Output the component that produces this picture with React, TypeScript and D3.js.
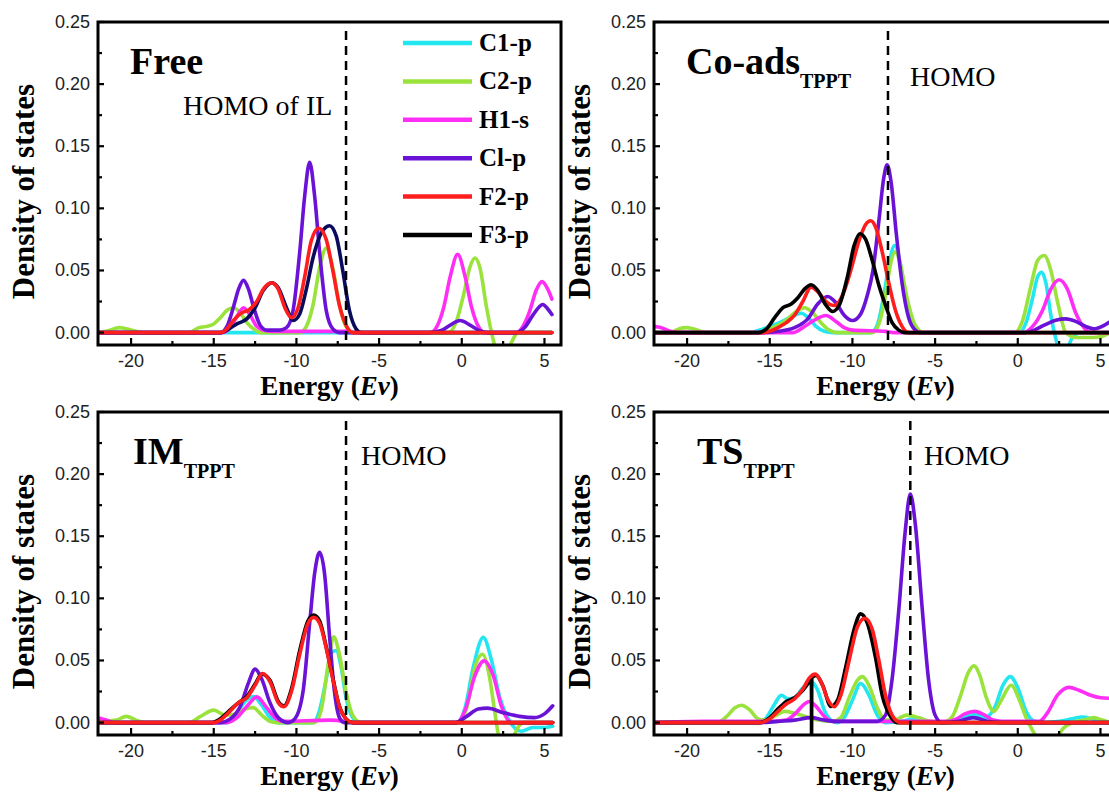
import React from 'react';
import * as d3 from 'd3';

type Pt = [number, number];

// ---------- shared labels ----------
const SERIES_NAMES = ['C1-p', 'C2-p', 'H1-s', 'Cl-p', 'F2-p', 'F3-p'];
const SERIES_COLORS = ['#22E6F0', '#9AE23C', '#FF2EF5', '#6A12D6', '#FF1E1E', '#000000'];
const X_TICKS = [-20, -15, -10, -5, 0, 5];
const X_MINOR = [-17.5, -12.5, -7.5, -2.5, 2.5];
const Y_TICKS = [0, 0.05, 0.1, 0.15, 0.2, 0.25];
const Y_MINOR = [0.025, 0.075, 0.125, 0.175, 0.225];
const X_DOMAIN: Pt = [-22, 6];
const Y_DOMAIN: Pt = [-0.01, 0.25];

// ---------- Free ----------
const FREE_C1: Pt[] = [[-22, 0], [5.45, 0]];
const FREE_C2: Pt[] = [[-22, 0], [-21.5, 0.001], [-20.7, 0.004], [-20, 0.002], [-19.3, 0], [-16.5, 0], [-15.9, 0.004], [-15.4, 0.005], [-15, 0.007], [-14.6, 0.012], [-14.2, 0.018], [-13.8, 0.02], [-13.4, 0.016], [-13, 0.008], [-12.5, 0.002], [-12.2, 0], [-9.8, 0], [-9.4, 0.005], [-9, 0.022], [-8.6, 0.052], [-8.2, 0.068], [-7.8, 0.052], [-7.4, 0.022], [-7, 0.005], [-6.6, 0], [-0.8, 0], [-0.3, 0.01], [0.1, 0.03], [0.5, 0.053], [0.8, 0.06], [1.1, 0.052], [1.5, 0.02], [1.8, 0], [2.2, -0.018], [2.6, -0.02], [3, -0.008], [3.4, 0], [5.45, 0]];
const FREE_H1: Pt[] = [[-22, 0], [-14.5, 0], [-14, 0.004], [-13.6, 0.013], [-13.2, 0.02], [-12.8, 0.014], [-12.4, 0.005], [-12, 0.002], [-11.5, 0.001], [-7, 0.001], [-6.5, 0], [-1.9, 0], [-1.5, 0.005], [-1.1, 0.02], [-0.7, 0.045], [-0.25, 0.063], [0.2, 0.045], [0.6, 0.02], [1, 0.005], [1.4, 0], [3.3, 0], [3.7, 0.005], [4.1, 0.017], [4.5, 0.034], [4.85, 0.041], [5.2, 0.035], [5.45, 0.027]];
const FREE_CL: Pt[] = [[-22, 0], [-14.6, 0], [-14.2, 0.005], [-13.8, 0.021], [-13.5, 0.035], [-13.2, 0.042], [-12.9, 0.035], [-12.6, 0.021], [-12.2, 0.006], [-11.8, 0.002], [-11, 0.002], [-10.6, 0.004], [-10.2, 0.018], [-9.8, 0.065], [-9.5, 0.11], [-9.2, 0.137], [-8.9, 0.11], [-8.6, 0.065], [-8.2, 0.018], [-7.8, 0.003], [-7.4, 0], [-2, 0], [-1.2, 0.002], [-0.7, 0.006], [-0.1, 0.0097], [0.5, 0.006], [1, 0.002], [1.6, 0], [3.3, 0], [3.8, 0.004], [4.3, 0.014], [4.9, 0.0226], [5.2, 0.019], [5.45, 0.0145]];
const FREE_F2: Pt[] = [[-22, 0], [-14.6, 0], [-14.2, 0.003], [-13.8, 0.01], [-13.3, 0.016], [-12.9, 0.018], [-12.4, 0.025], [-12, 0.035], [-11.5, 0.04], [-11.1, 0.035], [-10.7, 0.02], [-10.3, 0.012], [-9.9, 0.02], [-9.5, 0.045], [-9.1, 0.074], [-8.65, 0.084], [-8.2, 0.075], [-7.8, 0.05], [-7.4, 0.022], [-7, 0.006], [-6.6, 0], [5.45, 0]];
const FREE_F3: Pt[] = [[-22, 0], [-14.6, 0], [-14.2, 0.002], [-13.6, 0.007], [-13, 0.011], [-12.5, 0.02], [-12, 0.034], [-11.5, 0.04], [-11.1, 0.036], [-10.6, 0.02], [-10.2, 0.0097], [-9.8, 0.015], [-9.4, 0.035], [-9, 0.06], [-8.5, 0.08], [-8, 0.086], [-7.6, 0.078], [-7.2, 0.05], [-6.8, 0.018], [-6.4, 0.003], [-6.1, 0], [5.45, 0]];

// ---------- Co-ads TPPT ----------
const COADS_C1: Pt[] = [[-22, 0], [-16.2, 0], [-15.6, 0.002], [-15, 0.005], [-14.4, 0.008], [-13.8, 0.012], [-13.1, 0.0156], [-12.6, 0.011], [-12.2, 0.005], [-11.7, 0.001], [-11.2, 0], [-8.9, 0], [-8.5, 0.006], [-8.1, 0.03], [-7.75, 0.058], [-7.45, 0.07], [-7.1, 0.055], [-6.8, 0.028], [-6.4, 0.007], [-5.9, 0], [0.1, 0], [0.5, 0.008], [0.9, 0.028], [1.2, 0.045], [1.45, 0.0486], [1.7, 0.04], [2, 0.014], [2.3, -0.005], [2.8, -0.018], [3.3, -0.004], [3.8, 0], [5.6, 0]];
const COADS_C2: Pt[] = [[-22, 0], [-21, 0], [-20.5, 0.003], [-20, 0.004], [-19.4, 0.002], [-18.8, 0], [-15.6, 0], [-14.8, 0.004], [-14, 0.01], [-13.4, 0.017], [-12.9, 0.02], [-12.4, 0.016], [-11.9, 0.008], [-11.4, 0.002], [-10.9, 0], [-8.8, 0], [-8.4, 0.007], [-8, 0.03], [-7.7, 0.055], [-7.4, 0.065], [-7.1, 0.055], [-6.7, 0.028], [-6.2, 0.006], [-5.7, 0], [-0.2, 0], [0.3, 0.01], [0.8, 0.038], [1.2, 0.058], [1.6, 0.062], [2, 0.05], [2.4, 0.025], [2.9, 0], [3.5, -0.004], [4.5, -0.004], [5.1, -0.003], [5.6, 0]];
const COADS_H1: Pt[] = [[-22, 0.005], [-21.6, 0.004], [-21, 0.001], [-20.5, 0], [-13.6, 0], [-13, 0.004], [-12.3, 0.01], [-11.6, 0.0137], [-11, 0.009], [-10.5, 0.004], [-10, 0.002], [-8, 0.001], [-7.5, 0], [0.3, 0], [0.9, 0.005], [1.5, 0.018], [2, 0.035], [2.5, 0.0425], [3, 0.035], [3.5, 0.016], [4, 0.004], [4.4, 0], [5.6, 0]];
const COADS_CL: Pt[] = [[-22, 0], [-15.5, 0], [-14.5, 0.001], [-13.5, 0.004], [-12.7, 0.011], [-12.1, 0.023], [-11.5, 0.029], [-11, 0.024], [-10.5, 0.014], [-10, 0.0097], [-9.5, 0.015], [-9.1, 0.03], [-8.76, 0.05], [-8.4, 0.09], [-8.1, 0.125], [-7.9, 0.135], [-7.65, 0.12], [-7.35, 0.08], [-7, 0.04], [-6.6, 0.012], [-6.2, 0.002], [-5.9, 0], [0.4, 0], [1, 0.002], [1.6, 0.006], [2.3, 0.01], [2.9, 0.011], [3.5, 0.009], [4.1, 0.005], [4.6, 0.003], [5.1, 0.005], [5.6, 0.009]];
const COADS_F2: Pt[] = [[-22, 0], [-15.4, 0], [-15, 0.001], [-14.5, 0.004], [-14, 0.008], [-13.5, 0.014], [-13, 0.025], [-12.5, 0.0366], [-12.1, 0.033], [-11.6, 0.025], [-11.1, 0.0218], [-10.6, 0.03], [-10.1, 0.05], [-9.6, 0.074], [-9.2, 0.087], [-8.9, 0.09], [-8.6, 0.085], [-8.2, 0.065], [-7.8, 0.04], [-7.4, 0.018], [-7, 0.005], [-6.6, 0], [5.6, 0]];
const COADS_F3: Pt[] = [[-22, 0], [-15.7, 0], [-15.2, 0.003], [-14.7, 0.012], [-14.2, 0.02], [-13.7, 0.023], [-13.3, 0.028], [-12.9, 0.035], [-12.5, 0.0385], [-12.1, 0.034], [-11.6, 0.022], [-11.2, 0.017], [-10.8, 0.022], [-10.3, 0.045], [-9.9, 0.07], [-9.55, 0.0796], [-9.2, 0.075], [-8.8, 0.058], [-8.4, 0.038], [-8, 0.022], [-7.6, 0.008], [-7.2, 0.002], [-6.8, 0], [5.6, 0]];

// ---------- IM TPPT ----------
const IM_C1: Pt[] = [[-22, 0], [-14.2, 0], [-13.6, 0.008], [-13.1, 0.017], [-12.6, 0.021], [-12.1, 0.014], [-11.6, 0.004], [-11.1, 0], [-9, 0], [-8.6, 0.01], [-8.2, 0.035], [-7.9, 0.056], [-7.6, 0.058], [-7.3, 0.045], [-7, 0.02], [-6.6, 0.004], [-6.2, 0], [-0.3, 0], [0.2, 0.012], [0.7, 0.045], [1.3, 0.0686], [1.8, 0.05], [2.3, 0.02], [2.9, 0.001], [3.6, -0.007], [4.3, -0.004], [4.9, -0.004], [5.5, -0.003]];
const IM_C2: Pt[] = [[-22, 0.001], [-20.9, 0.002], [-20.3, 0.005], [-19.7, 0.002], [-19.2, 0], [-16.5, 0], [-15.8, 0.005], [-15, 0.01], [-14.3, 0.006], [-13.7, 0.007], [-13.1, 0.011], [-12.6, 0.012], [-12.1, 0.006], [-11.6, 0.001], [-11.2, 0], [-8.9, 0], [-8.5, 0.01], [-8.1, 0.045], [-7.75, 0.069], [-7.4, 0.055], [-7, 0.025], [-6.6, 0.006], [-6.1, 0], [-0.2, 0], [0.3, 0.012], [0.8, 0.045], [1.25, 0.055], [1.7, 0.035], [2, 0.008], [2.3, -0.015], [2.7, -0.022], [3.1, -0.012], [3.5, -0.002], [3.8, 0], [5.5, 0]];
const IM_H1: Pt[] = [[-22, 0.004], [-21.5, 0.002], [-21, 0], [-14.2, 0], [-13.6, 0.004], [-13, 0.013], [-12.4, 0.0207], [-11.8, 0.012], [-11.3, 0.004], [-10.8, 0.001], [-8, 0.002], [-7, 0.001], [-6.5, 0], [-0.3, 0], [0.2, 0.01], [0.8, 0.038], [1.35, 0.0497], [1.9, 0.038], [2.4, 0.013], [3, 0], [5.5, 0]];
const IM_CL: Pt[] = [[-22, 0], [-14.6, 0], [-14, 0.003], [-13.4, 0.013], [-12.9, 0.032], [-12.5, 0.043], [-12.1, 0.035], [-11.6, 0.016], [-11.1, 0.004], [-10.5, 0], [-10.1, 0.003], [-9.6, 0.025], [-9.2, 0.08], [-8.9, 0.12], [-8.6, 0.137], [-8.3, 0.12], [-8, 0.07], [-7.7, 0.025], [-7.4, 0.004], [-7.1, 0], [-0.4, 0], [0.3, 0.005], [1, 0.011], [1.55, 0.0116], [2.5, 0.008], [3.5, 0.005], [4.4, 0.004], [5, 0.007], [5.5, 0.0135]];
const IM_F2: Pt[] = [[-22, 0], [-15, 0], [-14.6, 0.002], [-14.1, 0.008], [-13.5, 0.016], [-13, 0.02], [-12.5, 0.03], [-12.05, 0.0395], [-11.6, 0.033], [-11.1, 0.016], [-10.75, 0.0127], [-10.3, 0.025], [-9.8, 0.055], [-9.3, 0.08], [-8.95, 0.0847], [-8.6, 0.08], [-8.2, 0.06], [-7.8, 0.035], [-7.4, 0.013], [-7, 0.003], [-6.6, 0], [5.5, 0]];
const IM_F3: Pt[] = [[-22, 0], [-15.1, 0], [-14.6, 0.003], [-14.1, 0.009], [-13.5, 0.016], [-13, 0.021], [-12.5, 0.031], [-12.1, 0.039], [-11.6, 0.034], [-11.1, 0.017], [-10.75, 0.0135], [-10.3, 0.027], [-9.8, 0.058], [-9.3, 0.082], [-8.95, 0.0865], [-8.6, 0.082], [-8.2, 0.061], [-7.8, 0.036], [-7.4, 0.013], [-7, 0.003], [-6.6, 0], [5.5, 0]];

// ---------- TS TPPT ----------
const TS_C1: Pt[] = [[-22, 0], [-15.7, 0], [-15.2, 0.004], [-14.7, 0.015], [-14.3, 0.022], [-13.9, 0.019], [-13.5, 0.02], [-13, 0.028], [-12.5, 0.033], [-12.1, 0.026], [-11.7, 0.01], [-11.3, 0.002], [-10.9, 0], [-10.5, 0.004], [-10, 0.018], [-9.5, 0.0315], [-9, 0.022], [-8.5, 0.006], [-8, 0], [-7, 0.001], [-6.3, 0.003], [-5.6, 0.001], [-5, 0], [-4, 0], [-3.4, 0.003], [-2.7, 0.007], [-2, 0.004], [-1.4, 0.012], [-0.9, 0.03], [-0.45, 0.037], [0, 0.028], [0.5, 0.009], [1, 0.001], [1.5, 0], [2.5, 0.001], [3.3, 0.003], [3.9, 0.0045], [4.5, 0.003], [5, 0.001], [5.6, 0]];
const TS_C2: Pt[] = [[-22, 0], [-18.2, 0], [-17.6, 0.005], [-17.1, 0.012], [-16.7, 0.014], [-16.2, 0.01], [-15.7, 0.003], [-15.2, 0.002], [-14.6, 0.006], [-14.1, 0.009], [-13.6, 0.008], [-13.1, 0.006], [-12.6, 0.004], [-12.1, 0.002], [-11.2, 0.001], [-10.7, 0.004], [-10.2, 0.02], [-9.7, 0.034], [-9.4, 0.037], [-9, 0.03], [-8.5, 0.012], [-8, 0.002], [-7.5, 0.002], [-6.7, 0.006], [-6, 0.004], [-5.3, 0.001], [-4.6, 0], [-4, 0.004], [-3.5, 0.02], [-3, 0.04], [-2.65, 0.0457], [-2.3, 0.038], [-1.9, 0.02], [-1.45, 0.009], [-1, 0.018], [-0.4, 0.03], [0.1, 0.018], [0.5, 0.004], [0.8, -0.004], [1.2, -0.013], [1.7, -0.02], [2.3, -0.013], [2.8, -0.004], [3.3, 0], [4, 0.002], [4.6, 0.004], [5.1, 0.002], [5.6, 0]];
const TS_H1: Pt[] = [[-22, 0], [-19, 0.001], [-15, 0.001], [-14, 0.002], [-13.4, 0.008], [-12.9, 0.015], [-12.6, 0.017], [-12.2, 0.013], [-11.7, 0.005], [-11.2, 0.001], [-4.2, 0.001], [-3.7, 0.003], [-3.2, 0.007], [-2.6, 0.009], [-2, 0.006], [-1.5, 0.002], [-1, 0.001], [1.3, 0.001], [1.8, 0.008], [2.4, 0.022], [3.1, 0.0283], [3.7, 0.026], [4.4, 0.022], [5, 0.02], [5.6, 0.0195]];
const TS_CL: Pt[] = [[-22, 0], [-15.5, 0], [-14.5, 0.001], [-13.5, 0.002], [-12.5, 0.004], [-11.7, 0.002], [-11, 0.001], [-8.5, 0.001], [-8, 0.006], [-7.6, 0.035], [-7.2, 0.09], [-6.8, 0.155], [-6.5, 0.184], [-6.2, 0.16], [-5.8, 0.095], [-5.4, 0.035], [-5, 0.006], [-4.6, 0], [-3.6, 0.001], [-2.7, 0.004], [-1.8, 0.001], [-1, 0], [5.6, 0]];
const TS_F2: Pt[] = [[-22, 0], [-15.6, 0], [-15, 0.003], [-14.5, 0.009], [-14, 0.015], [-13.5, 0.019], [-13, 0.027], [-12.6, 0.036], [-12.25, 0.039], [-11.9, 0.033], [-11.5, 0.019], [-11.1, 0.0127], [-10.7, 0.022], [-10.2, 0.05], [-9.7, 0.077], [-9.25, 0.084], [-8.8, 0.075], [-8.4, 0.05], [-8, 0.022], [-7.6, 0.006], [-7.1, 0], [5.6, 0]];
const TS_F3: Pt[] = [[-22, 0], [-15.6, 0], [-15, 0.004], [-14.5, 0.011], [-14, 0.017], [-13.5, 0.02], [-13, 0.026], [-12.6, 0.033], [-12.48, 0.035], [-12.47, -0.012], [-12.46, 0.036], [-12.2, 0.038], [-11.8, 0.03], [-11.3, 0.013], [-10.9, 0.018], [-10.4, 0.045], [-9.9, 0.075], [-9.5, 0.0875], [-9.1, 0.08], [-8.6, 0.052], [-8.2, 0.022], [-7.7, 0.005], [-7.3, 0], [5.6, 0]];

// ---------- panel setup ----------
interface PanelCfg {
  key: string;
  left: number;
  top: number;
  title: string;
  sub: string;
  titleX: number;
  homo: string;
  homoX: number;
  homoY: number;
  homoE: number;
  series: Pt[][];
  order: number[];
  f3Color?: string;
  legend?: boolean;
}

const FRAME_W = 463;
const FRAME_H = 323;

const PANELS: PanelCfg[] = [
  { key: 'free', left: 98, top: 22, title: 'Free', sub: '', titleX: 130, homo: 'HOMO of IL', homoX: 183, homoY: 115, homoE: -7.0,
    series: [FREE_C1, FREE_C2, FREE_H1, FREE_CL, FREE_F2, FREE_F3], order: [0, 1, 2, 3, 5, 4], f3Color: '#0B0B5E', legend: true },
  { key: 'coads', left: 654, top: 22, title: 'Co-ads', sub: 'TPPT', titleX: 686, homo: 'HOMO', homoX: 910, homoY: 86, homoE: -7.85,
    series: [COADS_C1, COADS_C2, COADS_H1, COADS_CL, COADS_F2, COADS_F3], order: [0, 1, 2, 3, 4, 5] },
  { key: 'im', left: 98, top: 412, title: 'IM', sub: 'TPPT', titleX: 133, homo: 'HOMO', homoX: 361, homoY: 465, homoE: -7.0,
    series: [IM_C1, IM_C2, IM_H1, IM_CL, IM_F2, IM_F3], order: [0, 1, 2, 3, 5, 4] },
  { key: 'ts', left: 654, top: 412, title: 'TS', sub: 'TPPT', titleX: 697, homo: 'HOMO', homoX: 924, homoY: 465, homoE: -6.5,
    series: [TS_C1, TS_C2, TS_H1, TS_CL, TS_F2, TS_F3], order: [0, 1, 2, 3, 5, 4] },
];

const SERIF = '"Liberation Serif", "Times New Roman", serif';
const SANS = '"Liberation Sans", Arial, sans-serif';

function Panel({ cfg }: { cfg: PanelCfg }) {
  const x = d3.scaleLinear().domain(X_DOMAIN).range([cfg.left, cfg.left + FRAME_W]);
  const y = d3.scaleLinear().domain(Y_DOMAIN).range([cfg.top + FRAME_H, cfg.top]);
  const line = d3.line<Pt>().x(d => x(d[0])).y(d => y(d[1])).curve(d3.curveMonotoneX);
  const bottom = cfg.top + FRAME_H;
  const clipId = `clip-${cfg.key}`;
  const cx = cfg.left + FRAME_W / 2;
  const cy = cfg.top + FRAME_H / 2;
  return (
    <g>
      <defs>
        <clipPath id={clipId}>
          <rect x={cfg.left} y={cfg.top} width={FRAME_W} height={FRAME_H} />
        </clipPath>
      </defs>
      {/* data */}
      <g clipPath={`url(#${clipId})`}>
        {cfg.order.map(i => (
          <path key={i} d={line(cfg.series[i]) || ''} fill="none"
            stroke={i === 5 && cfg.f3Color ? cfg.f3Color : SERIES_COLORS[i]}
            strokeWidth={3.6} strokeLinejoin="round" strokeLinecap="round" />
        ))}
      </g>
      {/* HOMO dashed line */}
      <line x1={x(cfg.homoE)} x2={x(cfg.homoE)} y1={cfg.top + 9} y2={bottom} stroke="#000" strokeWidth={2.5} strokeDasharray="9,6" />
      {/* frame */}
      <rect x={cfg.left} y={cfg.top} width={FRAME_W} height={FRAME_H} fill="none" stroke="#000" strokeWidth={3} />
      {/* ticks */}
      {X_TICKS.map(t => (
        <g key={`xt${t}`}>
          <line x1={x(t)} x2={x(t)} y1={bottom} y2={bottom - 7} stroke="#000" strokeWidth={2.2} />
          <text x={x(t)} y={bottom + 22} textAnchor="middle" fontFamily={SANS} fontSize={18} fill="#222">{t}</text>
        </g>
      ))}
      {X_MINOR.map(t => (
        <line key={`xm${t}`} x1={x(t)} x2={x(t)} y1={bottom} y2={bottom - 4} stroke="#000" strokeWidth={2.2} />
      ))}
      {Y_TICKS.map(t => (
        <g key={`yt${t}`}>
          <line x1={cfg.left} x2={cfg.left + 6} y1={y(t)} y2={y(t)} stroke="#000" strokeWidth={2.2} />
          <text x={cfg.left - 8} y={y(t) + 6} textAnchor="end" fontFamily={SANS} fontSize={18} fill="#222">{d3.format('.2f')(t)}</text>
        </g>
      ))}
      {Y_MINOR.map(t => (
        <line key={`ym${t}`} x1={cfg.left} x2={cfg.left + 4} y1={y(t)} y2={y(t)} stroke="#000" strokeWidth={2.2} />
      ))}
      {/* axis titles */}
      <text transform={`translate(${cfg.left - 64},${cy + 8}) rotate(-90)`} textAnchor="middle"
        fontFamily={SERIF} fontWeight="bold" fontSize={31}>Density of states</text>
      <text x={cx} y={bottom + 50} textAnchor="middle" fontFamily={SERIF} fontWeight="bold" fontSize={27}>
        Energy (<tspan fontStyle="italic">Ev</tspan>)
      </text>
      {/* panel title */}
      <text x={cfg.titleX} y={cfg.top + 52} fontFamily={SERIF} fontWeight="bold" fontSize={38}>
        {cfg.title}
        {cfg.sub && <tspan fontSize={20} dy={14}>{cfg.sub}</tspan>}
      </text>
      <text x={cfg.homoX} y={cfg.homoY} fontFamily={SERIF} fontSize={28}>{cfg.homo}</text>
      {cfg.legend && SERIES_NAMES.map((n, i) => {
        const ly = 43 + i * 38.4;
        return (
          <g key={n}>
            <line x1={403} x2={472} y1={ly} y2={ly} stroke={SERIES_COLORS[i]} strokeWidth={4.5} />
            <text x={479} y={ly + 8} fontFamily={SERIF} fontWeight="bold" fontSize={25}>{n}</text>
          </g>
        );
      })}
    </g>
  );
}

export default function App() {
  return (
    <svg width={1109} height={792} viewBox="0 0 1109 792"
      style={{ position: 'absolute', left: 0, top: 0, background: '#fff', display: 'block' }}>
      <rect x={0} y={0} width={1109} height={792} fill="#fff" />
      {PANELS.map(p => <Panel key={p.key} cfg={p} />)}
    </svg>
  );
}
